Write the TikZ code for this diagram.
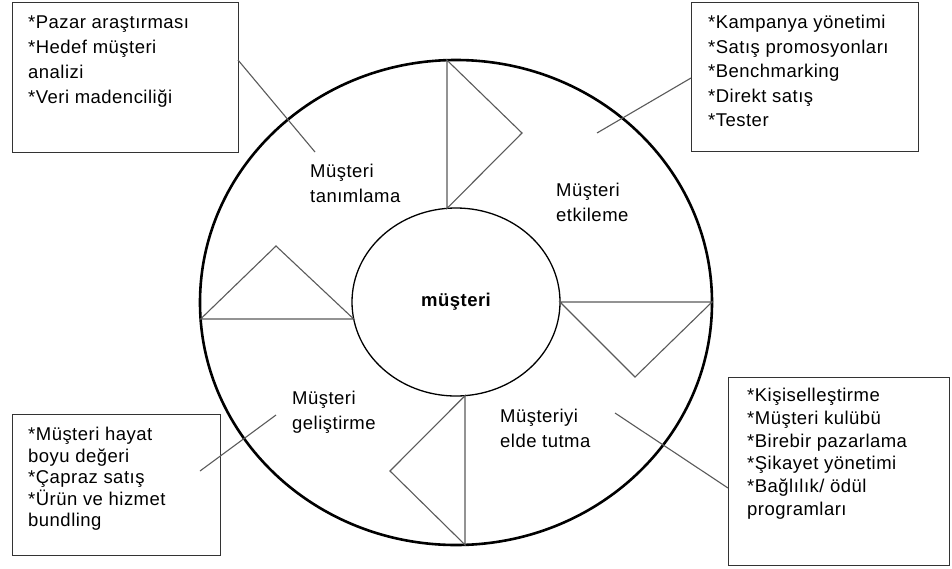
\documentclass[tikz,border=0pt]{standalone}
\usepackage{fontspec}
\setmainfont{Liberation Sans}[LetterSpace=2.6]
\usetikzlibrary{shapes.geometric}

\definecolor{thinline}{HTML}{5A5A5A}
\definecolor{boxline}{HTML}{333333}

\tikzset{
  ring/.style={draw=black, line width=2.6pt, ellipse, inner sep=0pt},
  hub/.style={draw=black, line width=1.3pt, ellipse, inner sep=0pt,
    font=\fontsize{18.5}{24}\selectfont\bfseries},
  arrowtri/.style={draw=thinline, line width=1.1pt, line join=miter},
  leader/.style={draw=thinline, line width=1.1pt},
  infobox/.style={draw=boxline, line width=1.3pt, rectangle, anchor=north west, inner sep=0pt},
  boxtext/.style={anchor=north west, inner sep=0pt, align=left},
  stage/.style={anchor=north west, inner sep=0pt, align=left,
    font=\fontsize{18.5}{25}\selectfont},
}

\begin{document}
\begin{tikzpicture}[x=1pt, y=-1pt]
  \useasboundingbox (0,0) rectangle (952,568);
  \fill[white] (0,0) rectangle (952,568);

  % outer ring and central hub
  \node[ring, minimum width=512pt, minimum height=485pt] (outer) at (456,302.5) {};
  \node[hub, minimum width=208pt, minimum height=188pt] (core) at (456,302) {müşteri};

  % end points of the four arrow-shaped separators
  \coordinate (topO) at (447,60.2);
  \coordinate (topI) at (447,208.4);
  \coordinate (topA) at (522,133);
  \coordinate (leftO) at (200.6,319);
  \coordinate (leftI) at (353.7,319);
  \coordinate (leftA) at (276,246);
  \coordinate (rightO) at (712,302);
  \coordinate (rightI) at (560,302);
  \coordinate (rightA) at (635,377);
  \coordinate (botO) at (465,544.8);
  \coordinate (botI) at (465,395.7);
  \coordinate (botA) at (390,471);

  \draw[arrowtri] (topA) -- (topO) -- (topI) -- cycle;
  \draw[arrowtri] (leftA) -- (leftO) -- (leftI) -- cycle;
  \draw[arrowtri] (rightA) -- (rightO) -- (rightI) -- cycle;
  \draw[arrowtri] (botA) -- (botO) -- (botI) -- cycle;

  % stage labels inside the ring
  \node[stage] (s1) at (310,164) {Müşteri\\tanımlama};
  \node[stage] (s2) at (556,183) {Müşteri\\etkileme};
  \node[stage] (s3) at (292,391) {Müşteri\\geliştirme};
  \node[stage] (s4) at (500,409) {Müşteriyi\\elde tutma};

  % activity boxes
  \node[infobox, minimum width=226pt, minimum height=150pt] (bTL) at (12,2) {};
  \node[infobox, minimum width=227pt, minimum height=149pt] (bTR) at (691,2) {};
  \node[infobox, minimum width=208pt, minimum height=141pt] (bBL) at (12,414) {};
  \node[infobox, minimum width=221pt, minimum height=188pt] (bBR) at (728,377) {};

  \node[boxtext, font=\fontsize{18.5}{24.8}\selectfont] (tTL) at (28,16)
    {*Pazar araştırması\\*Hedef müşteri\\analizi\\*Veri madenciliği};
  \node[boxtext, font=\fontsize{18.5}{24.5}\selectfont] (tTR) at (708,15)
    {*Kampanya yönetimi\\*Satış promosyonları\\*Benchmarking\\*Direkt satış\\*Tester};
  \node[boxtext, font=\fontsize{18.5}{21.5}\selectfont] (tBL) at (28,427)
    {*Müşteri hayat\\boyu değeri\\*Çapraz satış\\*Ürün ve hizmet\\bundling};
  \node[boxtext, font=\fontsize{18.5}{22.7}\selectfont] (tBR) at (747,388)
    {*Kişiselleştirme\\*Müşteri kulübü\\*Birebir pazarlama\\*Şikayet yönetimi\\*Bağlılık/ ödül\\programları};

  % leader lines from the boxes into the ring
  \coordinate (lTLa) at (238,60);
  \coordinate (lTLb) at (315,152);
  \coordinate (lTRa) at (691,78);
  \coordinate (lTRb) at (597,133);
  \coordinate (lBLa) at (200,471);
  \coordinate (lBLb) at (276,415);
  \coordinate (lBRa) at (728,488);
  \coordinate (lBRb) at (615,413);

  \draw[leader] (lTLa) -- (lTLb);
  \draw[leader] (lTRa) -- (lTRb);
  \draw[leader] (lBLa) -- (lBLb);
  \draw[leader] (lBRa) -- (lBRb);
\end{tikzpicture}
\end{document}
